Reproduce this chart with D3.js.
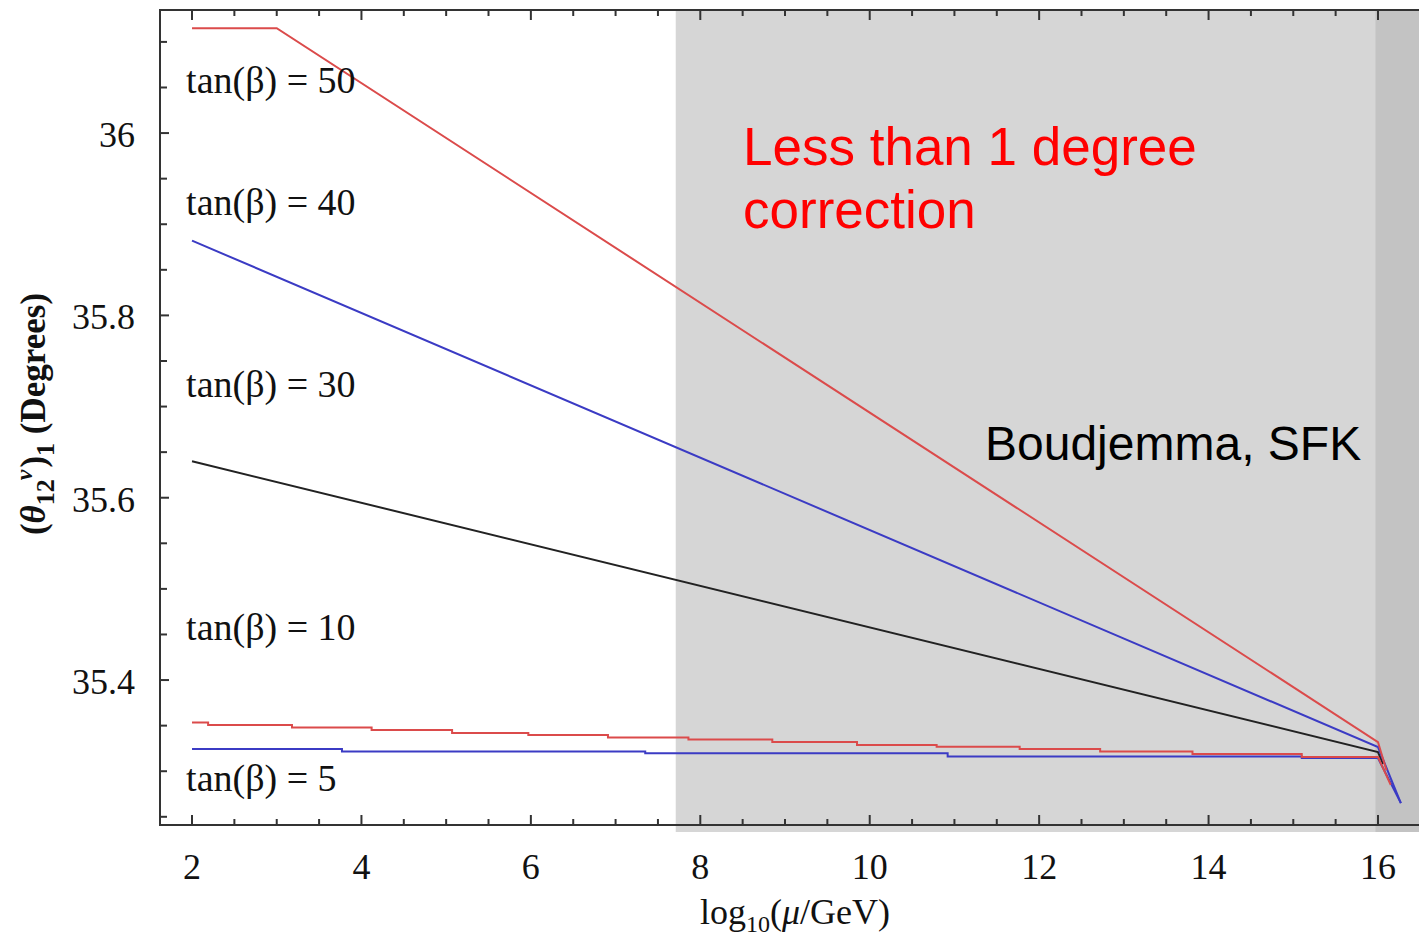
<!DOCTYPE html>
<head>
    <meta charset="utf-8" />
    <script src="https://d3js.org/d3.v7.min.js"></script>
    <style>
        body { margin: 0; background: #fff; }
        svg text { font-family: "Liberation Serif", "Times New Roman", serif; fill: #111; }
        .note { font-family: "Liberation Sans", Arial, sans-serif; }
    </style>
</head>
<body>
<div id="chart"></div>
<script>
    // axis limits (the picture is cut at the right edge)
    const xMin = 1.622, xMax = 16.49;
    const yMin = 35.241, yMax = 36.135;
    const xTicks = [2, 4, 6, 8, 10, 12, 14, 16];
    const yTicks = [35.4, 35.6, 35.8, 36];
    const yTickLabels = ["35.4", "35.6", "35.8", "36"];

    // shaded bands
    const bandLight = [7.71, xMax];
    const bandDark = [15.97, xMax];

    // tan(beta) = 50
    const tan50X = [2, 3, 16, 16.1];
    const tan50Y = [36.115, 36.115, 35.332, 35.301];
    // tan(beta) = 40
    const tan40X = [2, 16, 16.27];
    const tan40Y = [35.882, 35.3265, 35.265];
    // tan(beta) = 30
    const tan30X = [2, 16, 16.06];
    const tan30Y = [35.640, 35.321, 35.308];
    // tan(beta) = 10 (steps)
    const tan10X = [2, 2.19, 3.18, 4.12, 5.07, 5.97, 6.91, 7.86, 8.85, 9.85, 10.79, 11.77, 12.72, 13.81, 15.10, 16];
    const tan10Y = [35.3534, 35.3506, 35.3479, 35.3451, 35.3419, 35.3397, 35.3369, 35.3347, 35.332, 35.3287, 35.3268, 35.3243, 35.3216, 35.3188, 35.3155, 35.3155];
    const tan10End = [16.15, 35.285];
    // tan(beta) = 5 (steps)
    const tan5X = [2, 3.77, 7.35, 10.92, 15.10, 16];
    const tan5Y = [35.3243, 35.3216, 35.3196, 35.3161, 35.3144, 35.3144];
    const tan5End = [16.27, 35.265];

    // labels on the curves
    const labelTexts = ["tan(β) = 50", "tan(β) = 40", "tan(β) = 30", "tan(β) = 10", "tan(β) = 5"];
    const labelY = [36.044, 35.910, 35.710, 35.444, 35.278];
    const labelX = 1.93;

    const W = 1419, H = 940;
    const plotLeft = 160, plotTop = 10, plotBottom = 825;

    const svg = d3.select("#chart").append("svg")
        .attr("width", W).attr("height", H);

    const x = d3.scaleLinear().domain([xMin, xMax]).range([plotLeft, W + 0.5]);
    const y = d3.scaleLinear().domain([yMin, yMax]).range([plotBottom, plotTop]);

    // gray regions, a bit below the axis as in the original
    svg.append("rect")
        .attr("x", x(bandLight[0])).attr("y", plotTop)
        .attr("width", x(bandLight[1]) - x(bandLight[0]))
        .attr("height", plotBottom + 7 - plotTop)
        .attr("fill", "#d6d6d6");
    svg.append("rect")
        .attr("x", x(bandDark[0])).attr("y", plotTop)
        .attr("width", x(bandDark[1]) - x(bandDark[0]))
        .attr("height", plotBottom + 7 - plotTop)
        .attr("fill", "#c3c3c3");

    const line = d3.line().x(d => x(d[0])).y(d => y(d[1]));

    function straight(xs, ys) {
        return xs.map((v, i) => [v, ys[i]]);
    }
    // step series, then a final drop
    function stepped(xs, ys, end) {
        const pts = [];
        for (let i = 0; i < xs.length - 1; i++) {
            pts.push([xs[i], ys[i]]);
            pts.push([xs[i + 1], ys[i]]);
        }
        pts.push([xs[xs.length - 1], ys[ys.length - 1]]);
        pts.push(end);
        return pts;
    }

    const series = [
        { pts: straight(tan30X, tan30Y), color: "#222" },
        { pts: stepped(tan5X, tan5Y, tan5End), color: "#3b3bc4" },
        { pts: stepped(tan10X, tan10Y, tan10End), color: "#db4b4b" },
        { pts: straight(tan40X, tan40Y), color: "#3b3bc4" },
        { pts: straight(tan50X, tan50Y), color: "#db4b4b" }
    ];

    svg.selectAll("path.curve")
        .data(series)
        .enter()
        .append("path")
        .attr("class", "curve")
        .attr("d", d => line(d.pts))
        .attr("fill", "none")
        .attr("stroke", d => d.color)
        .attr("stroke-width", 2);

    // frame and ticks (ticks point inward)
    const axisColor = "#333";
    const g = svg.append("g").attr("stroke", axisColor);
    g.append("line").attr("x1", plotLeft).attr("x2", plotLeft).attr("y1", plotTop).attr("y2", plotBottom).attr("stroke-width", 2);
    g.append("line").attr("x1", plotLeft - 1).attr("x2", W).attr("y1", plotBottom).attr("y2", plotBottom).attr("stroke-width", 2);
    g.append("line").attr("x1", plotLeft - 1).attr("x2", W).attr("y1", plotTop).attr("y2", plotTop).attr("stroke-width", 2);

    const xMinor = d3.range(2, xMax, 0.5).filter(v => !xTicks.includes(v));
    const yMinor = d3.range(35.25, yMax, 0.05).filter(v => !yTicks.some(t => Math.abs(t - v) < 1e-6));

    [[xTicks, 10], [xMinor, 6]].forEach(([vals, len]) => {
        g.selectAll(null).data(vals).enter().append("line")
            .attr("x1", d => x(d)).attr("x2", d => x(d))
            .attr("y1", plotBottom).attr("y2", plotBottom - len).attr("stroke-width", 2);
        g.selectAll(null).data(vals).enter().append("line")
            .attr("x1", d => x(d)).attr("x2", d => x(d))
            .attr("y1", plotTop).attr("y2", plotTop + len).attr("stroke-width", 2);
    });
    [[yTicks, 9], [yMinor, 7]].forEach(([vals, len]) => {
        g.selectAll(null).data(vals).enter().append("line")
            .attr("x1", plotLeft).attr("x2", plotLeft + len)
            .attr("y1", d => y(d)).attr("y2", d => y(d)).attr("stroke-width", 2);
    });

    // tick labels
    svg.selectAll("text.xt").data(xTicks).enter().append("text")
        .attr("class", "xt")
        .attr("x", d => x(d)).attr("y", 879)
        .attr("text-anchor", "middle")
        .style("font-size", "36px")
        .text(d => d);
    svg.selectAll("text.yt").data(yTicks).enter().append("text")
        .attr("class", "yt")
        .attr("x", 135).attr("y", d => y(d) + 14)
        .attr("text-anchor", "end")
        .style("font-size", "36px")
        .text((d, i) => yTickLabels[i]);

    // axis titles
    const xl = svg.append("text")
        .attr("x", 795).attr("y", 924)
        .attr("text-anchor", "middle")
        .style("font-size", "36px");
    xl.append("tspan").text("log");
    xl.append("tspan").attr("dy", 8).style("font-size", "24px").text("10");
    xl.append("tspan").attr("dy", -8).text("(");
    xl.append("tspan").style("font-style", "italic").text("μ");
    xl.append("tspan").text("/GeV)");

    const yl = svg.append("text")
        .attr("transform", "translate(45,414) rotate(-90)")
        .attr("text-anchor", "middle")
        .style("font-size", "35px")
        .style("font-weight", "bold");
    yl.append("tspan").text("(");
    yl.append("tspan").style("font-style", "italic").text("θ");
    yl.append("tspan").attr("dy", 9).style("font-size", "26px").text("12");
    yl.append("tspan").attr("dy", -22).attr("dx", -1).style("font-size", "24px").style("font-style", "italic").text("ν");
    yl.append("tspan").attr("dy", 13).attr("dx", 2).text(")");
    yl.append("tspan").attr("dy", 9).style("font-size", "26px").text("1");
    yl.append("tspan").attr("dy", -9).text(" (Degrees)");

    // curve labels
    svg.selectAll("text.lab").data(labelTexts).enter().append("text")
        .attr("class", "lab")
        .attr("x", x(labelX)).attr("y", (d, i) => y(labelY[i]))
        .style("font-size", "38px")
        .text(d => d);

    // notes
    svg.append("text").attr("class", "note")
        .attr("x", 743).attr("y", 165)
        .style("font-size", "53px").style("fill", "#ff0000")
        .text("Less than 1 degree");
    svg.append("text").attr("class", "note")
        .attr("x", 743).attr("y", 228)
        .style("font-size", "53px").style("fill", "#ff0000")
        .text("correction");
    svg.append("text").attr("class", "note")
        .attr("x", 985).attr("y", 460)
        .style("font-size", "48px").style("fill", "#000")
        .text("Boudjemma, SFK");
</script>
</body>
